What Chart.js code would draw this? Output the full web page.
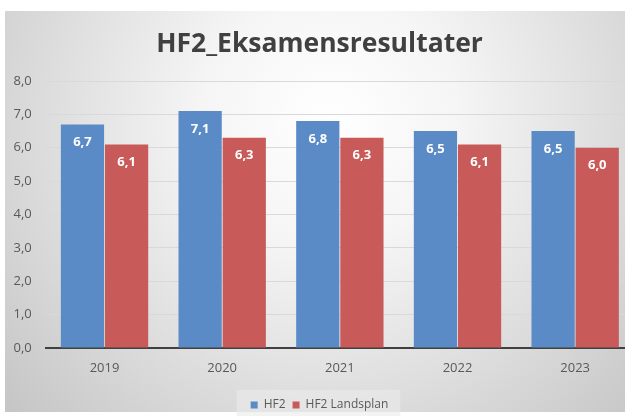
<!DOCTYPE html>
<html>
<head>
<meta charset="utf-8">
<script src="https://cdn.jsdelivr.net/npm/chart.js@4.4.1/dist/chart.umd.min.js"></script>
<style>
  html, body { margin: 0; padding: 0; overflow: hidden; background: #fff; }
  #wrap { width: 636px; height: 416px; }
</style>
</head>
<body>
<div id="wrap"><canvas id="c" width="636" height="416"></canvas></div>
<script>
const categories = ['2019', '2020', '2021', '2022', '2023'];
const hf2 = [6.7, 7.1, 6.8, 6.5, 6.5];
const landsplan = [6.1, 6.3, 6.3, 6.1, 6.0];
const seriesNames = ['HF2', 'HF2 Landsplan'];
const titleText = 'HF2_Eksamensresultater';
const yMin = 0, yMax = 8, yStep = 1;

const FONT = "'Open Sans', 'DejaVu Sans', sans-serif";
const fmt = v => Number(v).toFixed(1).replace('.', ',');

const bgPlugin = {
  id: 'bg',
  beforeDraw(chart) {
    const ctx = chart.ctx, W = chart.width, H = chart.height;
    ctx.save();
    ctx.fillStyle = '#ffffff';
    ctx.fillRect(0, 0, W, H);
    const g = ctx.createRadialGradient(330, 120, 0, 330, 120, 430);
    g.addColorStop(0, '#ffffff');
    g.addColorStop(0.3, '#f5f5f5');
    g.addColorStop(1, '#c6c6c6');
    ctx.fillStyle = g;
    ctx.fillRect(5, 11, W - 5, 401);
    const lg = chart.legend;
    if (lg && lg.legendHitBoxes && lg.legendHitBoxes.length) {
      const hb = lg.legendHitBoxes;
      const x0 = hb[0].left - 14, x1 = hb[hb.length - 1].left + hb[hb.length - 1].width + 12;
      ctx.fillStyle = 'rgba(235,235,235,0.6)';
      ctx.fillRect(x0, 390, x1 - x0, 26);
    }
    ctx.restore();
  }
};

const labelPlugin = {
  id: 'vlabels',
  afterDatasetsDraw(chart) {
    const ctx = chart.ctx;
    ctx.save();
    ctx.font = "bold 13px " + FONT;
    ctx.fillStyle = '#ffffff';
    ctx.textAlign = 'center';
    ctx.textBaseline = 'middle';
    chart.data.datasets.forEach((ds, di) => {
      const meta = chart.getDatasetMeta(di);
      meta.data.forEach((bar, i) => {
        ctx.fillText(fmt(ds.data[i]), bar.x, bar.y + 18);
      });
    });
    ctx.restore();
  }
};

new Chart(document.getElementById('c'), {
  type: 'bar',
  data: {
    labels: categories,
    datasets: [
      { label: seriesNames[0], data: hf2, backgroundColor: '#5b8bc7' },
      { label: seriesNames[1], data: landsplan, backgroundColor: '#c95a5a' }
    ]
  },
  options: {
    responsive: false,
    animation: false,
    devicePixelRatio: 1,
    layout: { padding: { left: 5, right: 2, top: 0, bottom: -5 } },
    datasets: { bar: { categoryPercentage: 0.75, barPercentage: 0.98 } },
    plugins: {
      title: {
        display: true, text: titleText, color: '#404040',
        font: { family: FONT, size: 26.5, weight: 'bold', lineHeight: 1.2 },
        padding: { top: 29, bottom: 20.2 }
      },
      legend: {
        position: 'bottom',
        labels: { boxWidth: 7, boxHeight: 7, padding: 7, color: '#595959',
                  font: { family: FONT, size: 12 } }
      },
      tooltip: { enabled: false }
    },
    scales: {
      x: {
        grid: { display: false },
        border: { display: true, color: '#404040', width: 2 },
        ticks: { color: '#595959', font: { family: FONT, size: 13 }, padding: 4.5 },
        afterFit(s) { s.height = 44; }
      },
      y: {
        min: yMin, max: yMax,
        border: { display: false },
        grid: { color: '#d9d9d9', lineWidth: 1, drawTicks: false },
        ticks: { stepSize: yStep, color: '#595959', padding: 14,
                 font: { family: FONT, size: 13 }, callback: v => fmt(v) },
        afterFit(s) { s.width = 40.7; }
      }
    }
  },
  plugins: [bgPlugin, labelPlugin]
});
</script>
</body>
</html>
